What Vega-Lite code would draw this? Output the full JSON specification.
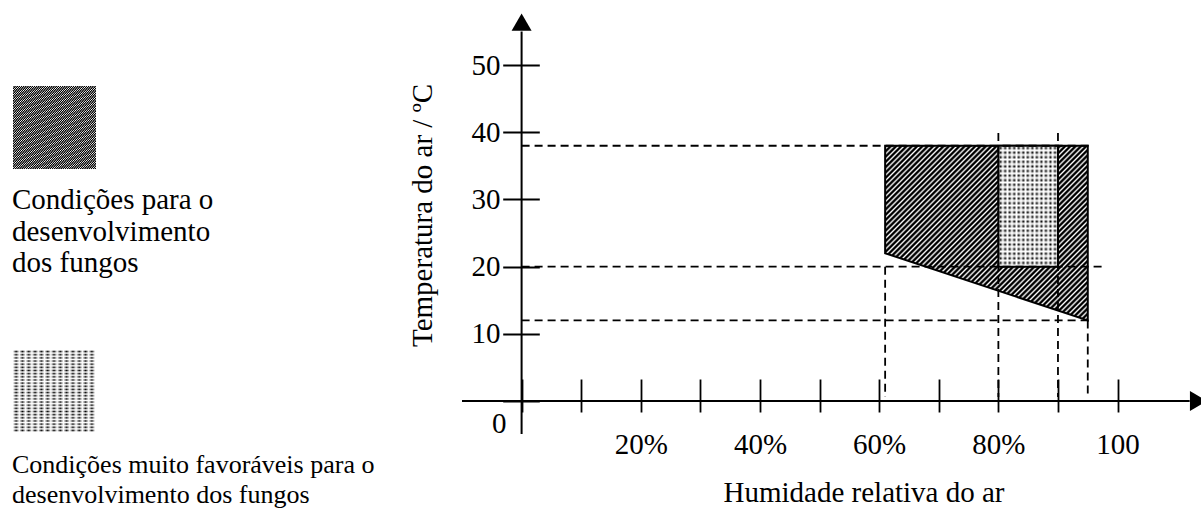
{
  "$schema": "https://vega.github.io/schema/vega-lite/v6.json",
  "width": 739,
  "height": 401,
  "autosize": {"type": "none"},
  "padding": {"left": 462, "top": 0, "right": 0, "bottom": 109},
  "background": "white",
  "config": {"font": "Liberation Serif", "view": {"stroke": null}},
  "datasets": {
    "hatch": [
      {"h": 61, "tmax": 38, "tmin": 22, "zona": "Condições para o desenvolvimento dos fungos"},
      {"h": 95, "tmax": 38, "tmin": 12, "zona": "Condições para o desenvolvimento dos fungos"}
    ],
    "fav": [
      {"h1": 80, "h2": 90, "t1": 20, "t2": 38, "zona": "Condições muito favoráveis para o desenvolvimento dos fungos"}
    ],
    "hdash": [
      {"t": 38, "h1": 0, "h2": 95.2},
      {"t": 20, "h1": 0, "h2": 97.9},
      {"t": 12, "h1": 0, "h2": 95.6}
    ],
    "vdash": [
      {"h": 61, "t1": 20, "t2": 0.6},
      {"h": 80, "t1": 39.9, "t2": 0.6},
      {"h": 90, "t1": 39.9, "t2": 0.6},
      {"h": 95, "t1": 12, "t2": 0.6}
    ]
  },
  "layer": [
    {
      "data": {"name": "hatch"},
      "mark": {"type": "area", "stroke": "black", "strokeWidth": 2,
        "fill": {"gradient": "linear", "x1": 0, "y1": 0, "x2": 1.068, "y2": 0.921, "stops": [
{"offset":0,"color":"#000"},{"offset":0.004,"color":"#000"},{"offset":0.009,"color":"#fff"},
{"offset":0.014,"color":"#000"},{"offset":0.018,"color":"#000"},{"offset":0.023,"color":"#fff"},
{"offset":0.028,"color":"#000"},{"offset":0.032,"color":"#000"},{"offset":0.037,"color":"#fff"},
{"offset":0.042,"color":"#000"},{"offset":0.046,"color":"#000"},{"offset":0.051,"color":"#fff"},
{"offset":0.056,"color":"#000"},{"offset":0.06,"color":"#000"},{"offset":0.065,"color":"#fff"},
{"offset":0.07,"color":"#000"},{"offset":0.074,"color":"#000"},{"offset":0.079,"color":"#fff"},
{"offset":0.084,"color":"#000"},{"offset":0.088,"color":"#000"},{"offset":0.093,"color":"#fff"},
{"offset":0.098,"color":"#000"},{"offset":0.102,"color":"#000"},{"offset":0.107,"color":"#fff"},
{"offset":0.112,"color":"#000"},{"offset":0.116,"color":"#000"},{"offset":0.121,"color":"#fff"},
{"offset":0.126,"color":"#000"},{"offset":0.13,"color":"#000"},{"offset":0.135,"color":"#fff"},
{"offset":0.14,"color":"#000"},{"offset":0.144,"color":"#000"},{"offset":0.149,"color":"#fff"},
{"offset":0.154,"color":"#000"},{"offset":0.158,"color":"#000"},{"offset":0.163,"color":"#fff"},
{"offset":0.168,"color":"#000"},{"offset":0.172,"color":"#000"},{"offset":0.177,"color":"#fff"},
{"offset":0.182,"color":"#000"},{"offset":0.186,"color":"#000"},{"offset":0.191,"color":"#fff"},
{"offset":0.196,"color":"#000"},{"offset":0.2,"color":"#000"},{"offset":0.205,"color":"#fff"},
{"offset":0.21,"color":"#000"},{"offset":0.214,"color":"#000"},{"offset":0.219,"color":"#fff"},
{"offset":0.224,"color":"#000"},{"offset":0.228,"color":"#000"},{"offset":0.233,"color":"#fff"},
{"offset":0.238,"color":"#000"},{"offset":0.242,"color":"#000"},{"offset":0.247,"color":"#fff"},
{"offset":0.252,"color":"#000"},{"offset":0.256,"color":"#000"},{"offset":0.261,"color":"#fff"},
{"offset":0.266,"color":"#000"},{"offset":0.27,"color":"#000"},{"offset":0.275,"color":"#fff"},
{"offset":0.28,"color":"#000"},{"offset":0.284,"color":"#000"},{"offset":0.289,"color":"#fff"},
{"offset":0.294,"color":"#000"},{"offset":0.298,"color":"#000"},{"offset":0.303,"color":"#fff"},
{"offset":0.308,"color":"#000"},{"offset":0.312,"color":"#000"},{"offset":0.317,"color":"#fff"},
{"offset":0.322,"color":"#000"},{"offset":0.326,"color":"#000"},{"offset":0.331,"color":"#fff"},
{"offset":0.336,"color":"#000"},{"offset":0.34,"color":"#000"},{"offset":0.345,"color":"#fff"},
{"offset":0.35,"color":"#000"},{"offset":0.354,"color":"#000"},{"offset":0.359,"color":"#fff"},
{"offset":0.364,"color":"#000"},{"offset":0.368,"color":"#000"},{"offset":0.373,"color":"#fff"},
{"offset":0.378,"color":"#000"},{"offset":0.382,"color":"#000"},{"offset":0.387,"color":"#fff"},
{"offset":0.392,"color":"#000"},{"offset":0.396,"color":"#000"},{"offset":0.401,"color":"#fff"},
{"offset":0.406,"color":"#000"},{"offset":0.41,"color":"#000"},{"offset":0.415,"color":"#fff"},
{"offset":0.42,"color":"#000"},{"offset":0.424,"color":"#000"},{"offset":0.429,"color":"#fff"},
{"offset":0.434,"color":"#000"},{"offset":0.438,"color":"#000"},{"offset":0.443,"color":"#fff"},
{"offset":0.448,"color":"#000"},{"offset":0.452,"color":"#000"},{"offset":0.457,"color":"#fff"},
{"offset":0.462,"color":"#000"},{"offset":0.466,"color":"#000"},{"offset":0.471,"color":"#fff"},
{"offset":0.476,"color":"#000"},{"offset":0.48,"color":"#000"},{"offset":0.485,"color":"#fff"},
{"offset":0.49,"color":"#000"},{"offset":0.494,"color":"#000"},{"offset":0.499,"color":"#fff"},
{"offset":0.504,"color":"#000"},{"offset":0.508,"color":"#000"},{"offset":0.513,"color":"#fff"},
{"offset":0.518,"color":"#000"},{"offset":0.522,"color":"#000"},{"offset":0.527,"color":"#fff"},
{"offset":0.532,"color":"#000"},{"offset":0.536,"color":"#000"},{"offset":0.541,"color":"#fff"},
{"offset":0.546,"color":"#000"},{"offset":0.55,"color":"#000"},{"offset":0.555,"color":"#fff"},
{"offset":0.56,"color":"#000"},{"offset":0.564,"color":"#000"},{"offset":0.569,"color":"#fff"},
{"offset":0.574,"color":"#000"},{"offset":0.578,"color":"#000"},{"offset":0.583,"color":"#fff"},
{"offset":0.588,"color":"#000"},{"offset":0.592,"color":"#000"},{"offset":0.597,"color":"#fff"},
{"offset":0.602,"color":"#000"},{"offset":0.606,"color":"#000"},{"offset":0.611,"color":"#fff"},
{"offset":0.616,"color":"#000"},{"offset":0.62,"color":"#000"},{"offset":0.625,"color":"#fff"},
{"offset":0.63,"color":"#000"},{"offset":0.634,"color":"#000"},{"offset":0.639,"color":"#fff"},
{"offset":0.644,"color":"#000"},{"offset":0.648,"color":"#000"},{"offset":0.653,"color":"#fff"},
{"offset":0.658,"color":"#000"},{"offset":0.662,"color":"#000"},{"offset":0.667,"color":"#fff"},
{"offset":0.672,"color":"#000"},{"offset":0.676,"color":"#000"},{"offset":0.681,"color":"#fff"},
{"offset":0.686,"color":"#000"},{"offset":0.69,"color":"#000"},{"offset":0.695,"color":"#fff"},
{"offset":0.7,"color":"#000"},{"offset":0.704,"color":"#000"},{"offset":0.709,"color":"#fff"},
{"offset":0.714,"color":"#000"},{"offset":0.718,"color":"#000"},{"offset":0.723,"color":"#fff"},
{"offset":0.728,"color":"#000"},{"offset":0.732,"color":"#000"},{"offset":0.737,"color":"#fff"},
{"offset":0.742,"color":"#000"},{"offset":0.746,"color":"#000"},{"offset":0.751,"color":"#fff"},
{"offset":0.756,"color":"#000"},{"offset":0.76,"color":"#000"},{"offset":0.765,"color":"#fff"},
{"offset":0.77,"color":"#000"},{"offset":0.774,"color":"#000"},{"offset":0.779,"color":"#fff"},
{"offset":0.784,"color":"#000"},{"offset":0.788,"color":"#000"},{"offset":0.793,"color":"#fff"},
{"offset":0.798,"color":"#000"},{"offset":0.802,"color":"#000"},{"offset":0.807,"color":"#fff"},
{"offset":0.812,"color":"#000"},{"offset":0.816,"color":"#000"},{"offset":0.821,"color":"#fff"},
{"offset":0.826,"color":"#000"},{"offset":0.83,"color":"#000"},{"offset":0.835,"color":"#fff"},
{"offset":0.84,"color":"#000"},{"offset":0.844,"color":"#000"},{"offset":0.849,"color":"#fff"},
{"offset":0.854,"color":"#000"},{"offset":0.858,"color":"#000"},{"offset":0.863,"color":"#fff"},
{"offset":0.868,"color":"#000"},{"offset":0.872,"color":"#000"},{"offset":0.877,"color":"#fff"},
{"offset":0.882,"color":"#000"},{"offset":0.886,"color":"#000"},{"offset":0.891,"color":"#fff"},
{"offset":0.896,"color":"#000"},{"offset":0.9,"color":"#000"},{"offset":0.905,"color":"#fff"},
{"offset":0.91,"color":"#000"},{"offset":0.914,"color":"#000"},{"offset":0.919,"color":"#fff"},
{"offset":0.924,"color":"#000"},{"offset":0.928,"color":"#000"},{"offset":0.933,"color":"#fff"},
{"offset":0.938,"color":"#000"},{"offset":0.942,"color":"#000"},{"offset":0.947,"color":"#fff"},
{"offset":0.952,"color":"#000"},{"offset":0.956,"color":"#000"},{"offset":0.961,"color":"#fff"},
{"offset":0.966,"color":"#000"},{"offset":0.97,"color":"#000"},{"offset":0.975,"color":"#fff"},
{"offset":0.98,"color":"#000"},{"offset":0.984,"color":"#000"},{"offset":0.989,"color":"#fff"},
{"offset":0.994,"color":"#000"},{"offset":0.998,"color":"#000"}]}
      },
      "encoding": {
        "x": {
          "field": "h", "type": "quantitative",
          "scale": {"domain": [-10, 114], "nice": false, "zero": false},
          "axis": {
            "values": [0, 10, 20, 30, 40, 50, 60, 70, 80, 90, 100],
            "domain": false, "grid": false, "offset": -22,
            "tickSize": 33, "tickWidth": 1.8, "tickColor": "black",
            "labelExpr": "datum.value == 100 ? '100' : (datum.value > 0 && datum.value % 20 == 0 ? datum.value + '%' : '')",
            "labelFontSize": 29, "labelColor": "black", "labelPadding": 18,
            "labelOverlap": false, "labelFlush": false, "labelBound": false,
            "title": "Humidade relativa do ar", "titleFontSize": 29, "titleFontWeight": "normal", "titleColor": "black",
            "titleX": 261, "titleY": 122, "titleAlign": "left", "titleBaseline": "alphabetic", "titleAnchor": "start"
          }
        },
        "y": {
          "field": "tmax", "type": "quantitative",
          "scale": {"domain": [0, 59.7], "nice": false, "zero": false},
          "axis": {
            "values": [0, 10, 20, 30, 40, 50],
            "domain": false, "grid": false, "offset": -77.3,
            "tickSize": 36.6, "tickWidth": 1.8, "tickColor": "black",
            "labelFontSize": 29, "labelColor": "black", "labelBaseline": "middle",
            "labelPadding": {"condition": {"test": "datum.value == 0", "value": -3.3}, "value": 2.7},
            "labelOffset": {"condition": {"test": "datum.value == 0", "value": 22}, "value": 0},
            "labelOverlap": false, "labelFlush": false, "labelBound": false,
            "title": "Temperatura do ar / ºC", "titleFontSize": 29, "titleFontWeight": "normal", "titleColor": "black",
            "titleX": -108, "titleY": 215, "titleAngle": -90, "titleAlign": "center", "titleBaseline": "alphabetic"
          }
        },
        "y2": {"field": "tmin"},
        "opacity": {
          "field": "zona", "type": "nominal",
          "scale": {"range": [1]},
          "legend": {
            "orient": "none", "legendX": -450, "legendY": 85, "padding": 0,
            "title": ["Condições para o", "desenvolvimento", "dos fungos"],
            "titleOrient": "bottom", "titleAnchor": "start", "titleAlign": "left", "titleBaseline": "alphabetic",
            "titleFontSize": 29, "titleFontWeight": "normal", "titleColor": "black", "titleLimit": 1000,
            "titleLineHeight": 31.5, "titlePadding": 37,
            "symbolType": "square", "symbolSize": 6889, "symbolStrokeColor": "black", "symbolStrokeWidth": 1.5, "symbolOpacity": 1,
            "labelExpr": "''", "labelFontSize": 1, "labelOffset": 0,
            "encode": {"symbols": {"update": {"stroke": {"value": "black"}, "strokeWidth": {"value": 1.5}, "fill": {"value": {"gradient": "linear", "x1": 0, "y1": 0, "x2": 1, "y2": 1, "stops": [
{"offset":0,"color":"#000"},{"offset":0.011,"color":"#000"},{"offset":0.024,"color":"#fff"},
{"offset":0.036,"color":"#000"},{"offset":0.047,"color":"#000"},{"offset":0.06,"color":"#fff"},
{"offset":0.072,"color":"#000"},{"offset":0.083,"color":"#000"},{"offset":0.096,"color":"#fff"},
{"offset":0.108,"color":"#000"},{"offset":0.119,"color":"#000"},{"offset":0.132,"color":"#fff"},
{"offset":0.144,"color":"#000"},{"offset":0.155,"color":"#000"},{"offset":0.168,"color":"#fff"},
{"offset":0.18,"color":"#000"},{"offset":0.191,"color":"#000"},{"offset":0.204,"color":"#fff"},
{"offset":0.216,"color":"#000"},{"offset":0.227,"color":"#000"},{"offset":0.24,"color":"#fff"},
{"offset":0.252,"color":"#000"},{"offset":0.263,"color":"#000"},{"offset":0.276,"color":"#fff"},
{"offset":0.288,"color":"#000"},{"offset":0.299,"color":"#000"},{"offset":0.312,"color":"#fff"},
{"offset":0.324,"color":"#000"},{"offset":0.335,"color":"#000"},{"offset":0.348,"color":"#fff"},
{"offset":0.36,"color":"#000"},{"offset":0.371,"color":"#000"},{"offset":0.384,"color":"#fff"},
{"offset":0.396,"color":"#000"},{"offset":0.407,"color":"#000"},{"offset":0.42,"color":"#fff"},
{"offset":0.432,"color":"#000"},{"offset":0.443,"color":"#000"},{"offset":0.456,"color":"#fff"},
{"offset":0.468,"color":"#000"},{"offset":0.479,"color":"#000"},{"offset":0.492,"color":"#fff"},
{"offset":0.504,"color":"#000"},{"offset":0.515,"color":"#000"},{"offset":0.528,"color":"#fff"},
{"offset":0.54,"color":"#000"},{"offset":0.551,"color":"#000"},{"offset":0.564,"color":"#fff"},
{"offset":0.576,"color":"#000"},{"offset":0.587,"color":"#000"},{"offset":0.6,"color":"#fff"},
{"offset":0.612,"color":"#000"},{"offset":0.623,"color":"#000"},{"offset":0.636,"color":"#fff"},
{"offset":0.648,"color":"#000"},{"offset":0.659,"color":"#000"},{"offset":0.672,"color":"#fff"},
{"offset":0.684,"color":"#000"},{"offset":0.695,"color":"#000"},{"offset":0.708,"color":"#fff"},
{"offset":0.72,"color":"#000"},{"offset":0.731,"color":"#000"},{"offset":0.744,"color":"#fff"},
{"offset":0.756,"color":"#000"},{"offset":0.767,"color":"#000"},{"offset":0.78,"color":"#fff"},
{"offset":0.792,"color":"#000"},{"offset":0.803,"color":"#000"},{"offset":0.816,"color":"#fff"},
{"offset":0.828,"color":"#000"},{"offset":0.839,"color":"#000"},{"offset":0.852,"color":"#fff"},
{"offset":0.864,"color":"#000"},{"offset":0.875,"color":"#000"},{"offset":0.888,"color":"#fff"},
{"offset":0.9,"color":"#000"},{"offset":0.911,"color":"#000"},{"offset":0.924,"color":"#fff"},
{"offset":0.936,"color":"#000"},{"offset":0.947,"color":"#000"},{"offset":0.96,"color":"#fff"},
{"offset":0.972,"color":"#000"},{"offset":0.983,"color":"#000"},{"offset":0.996,"color":"#fff"}]}}}}}
          }
        }
      }
    },
    {
      "data": {"name": "fav"},
      "mark": {"type": "rect",
        "fill": {"gradient": "linear", "x1": 0, "y1": 0, "x2": 1, "y2": 0, "stops": [{"offset":0,"color":"#fff"},{"offset":0.038,"color":"#000"},{"offset":0.076,"color":"#fff"},{"offset":0.114,"color":"#000"},{"offset":0.152,"color":"#fff"},{"offset":0.19,"color":"#000"},{"offset":0.228,"color":"#fff"},{"offset":0.266,"color":"#000"},{"offset":0.304,"color":"#fff"},{"offset":0.342,"color":"#000"},{"offset":0.38,"color":"#fff"},{"offset":0.418,"color":"#000"},{"offset":0.456,"color":"#fff"},{"offset":0.494,"color":"#000"},{"offset":0.532,"color":"#fff"},{"offset":0.57,"color":"#000"},{"offset":0.608,"color":"#fff"},{"offset":0.646,"color":"#000"},{"offset":0.684,"color":"#fff"},{"offset":0.722,"color":"#000"},{"offset":0.76,"color":"#fff"},{"offset":0.798,"color":"#000"},{"offset":0.836,"color":"#fff"},{"offset":0.874,"color":"#000"},{"offset":0.912,"color":"#fff"},{"offset":0.95,"color":"#000"},{"offset":0.988,"color":"#fff"}]}
      },
      "encoding": {
        "x": {"field": "h1", "type": "quantitative"},
        "x2": {"field": "h2"},
        "y": {"field": "t2", "type": "quantitative"},
        "y2": {"field": "t1"},
        "opacity": {
          "field": "zona", "type": "nominal",
          "scale": {"range": [1]},
          "legend": {
            "orient": "none", "legendX": -450, "legendY": 349, "padding": 0,
            "title": ["Condições muito favoráveis para o", "desenvolvimento dos fungos"],
            "titleOrient": "bottom", "titleAnchor": "start", "titleAlign": "left", "titleBaseline": "alphabetic",
            "titleFontSize": 26, "titleFontWeight": "normal", "titleColor": "black", "titleLimit": 1000,
            "titleLineHeight": 30, "titlePadding": 37,
            "symbolType": "square", "symbolSize": 6889, "symbolStrokeColor": "black", "symbolStrokeWidth": 1.5, "symbolOpacity": 1,
            "labelExpr": "''", "labelFontSize": 1, "labelOffset": 0,
            "encode": {"symbols": {"update": {"stroke": {"value": "black"}, "strokeWidth": {"value": 1.5}, "fill": {"value": {"gradient": "linear", "x1": 0, "y1": 0, "x2": 1, "y2": 0, "stops": [{"offset":0,"color":"#fff"},{"offset":0.028,"color":"#000"},{"offset":0.056,"color":"#fff"},{"offset":0.084,"color":"#000"},{"offset":0.112,"color":"#fff"},{"offset":0.14,"color":"#000"},{"offset":0.168,"color":"#fff"},{"offset":0.196,"color":"#000"},{"offset":0.224,"color":"#fff"},{"offset":0.252,"color":"#000"},{"offset":0.28,"color":"#fff"},{"offset":0.308,"color":"#000"},{"offset":0.336,"color":"#fff"},{"offset":0.364,"color":"#000"},{"offset":0.392,"color":"#fff"},{"offset":0.42,"color":"#000"},{"offset":0.448,"color":"#fff"},{"offset":0.476,"color":"#000"},{"offset":0.504,"color":"#fff"},{"offset":0.532,"color":"#000"},{"offset":0.56,"color":"#fff"},{"offset":0.588,"color":"#000"},{"offset":0.616,"color":"#fff"},{"offset":0.644,"color":"#000"},{"offset":0.672,"color":"#fff"},{"offset":0.7,"color":"#000"},{"offset":0.728,"color":"#fff"},{"offset":0.756,"color":"#000"},{"offset":0.784,"color":"#fff"},{"offset":0.812,"color":"#000"},{"offset":0.84,"color":"#fff"},{"offset":0.868,"color":"#000"},{"offset":0.896,"color":"#fff"},{"offset":0.924,"color":"#000"},{"offset":0.952,"color":"#fff"},{"offset":0.98,"color":"#000"}]}}}}}
          }
        }
      }
    },
    {
      "data": {"name": "fav"},
      "mark": {"type": "rect", "stroke": "black", "strokeWidth": 2,
        "fill": {"gradient": "linear", "x1": 0, "y1": 0, "x2": 0, "y2": 1, "stops": [{"offset":0,"color":"#fff"},{"offset":0.019,"color":"rgba(255,255,255,0)"},{"offset":0.038,"color":"#fff"},{"offset":0.057,"color":"rgba(255,255,255,0)"},{"offset":0.076,"color":"#fff"},{"offset":0.095,"color":"rgba(255,255,255,0)"},{"offset":0.114,"color":"#fff"},{"offset":0.133,"color":"rgba(255,255,255,0)"},{"offset":0.152,"color":"#fff"},{"offset":0.171,"color":"rgba(255,255,255,0)"},{"offset":0.19,"color":"#fff"},{"offset":0.209,"color":"rgba(255,255,255,0)"},{"offset":0.228,"color":"#fff"},{"offset":0.247,"color":"rgba(255,255,255,0)"},{"offset":0.266,"color":"#fff"},{"offset":0.285,"color":"rgba(255,255,255,0)"},{"offset":0.304,"color":"#fff"},{"offset":0.323,"color":"rgba(255,255,255,0)"},{"offset":0.342,"color":"#fff"},{"offset":0.361,"color":"rgba(255,255,255,0)"},{"offset":0.38,"color":"#fff"},{"offset":0.399,"color":"rgba(255,255,255,0)"},{"offset":0.418,"color":"#fff"},{"offset":0.437,"color":"rgba(255,255,255,0)"},{"offset":0.456,"color":"#fff"},{"offset":0.475,"color":"rgba(255,255,255,0)"},{"offset":0.494,"color":"#fff"},{"offset":0.513,"color":"rgba(255,255,255,0)"},{"offset":0.532,"color":"#fff"},{"offset":0.551,"color":"rgba(255,255,255,0)"},{"offset":0.57,"color":"#fff"},{"offset":0.589,"color":"rgba(255,255,255,0)"},{"offset":0.608,"color":"#fff"},{"offset":0.627,"color":"rgba(255,255,255,0)"},{"offset":0.646,"color":"#fff"},{"offset":0.665,"color":"rgba(255,255,255,0)"},{"offset":0.684,"color":"#fff"},{"offset":0.703,"color":"rgba(255,255,255,0)"},{"offset":0.722,"color":"#fff"},{"offset":0.741,"color":"rgba(255,255,255,0)"},{"offset":0.76,"color":"#fff"},{"offset":0.779,"color":"rgba(255,255,255,0)"},{"offset":0.798,"color":"#fff"},{"offset":0.817,"color":"rgba(255,255,255,0)"},{"offset":0.836,"color":"#fff"},{"offset":0.855,"color":"rgba(255,255,255,0)"},{"offset":0.874,"color":"#fff"},{"offset":0.893,"color":"rgba(255,255,255,0)"},{"offset":0.912,"color":"#fff"},{"offset":0.931,"color":"rgba(255,255,255,0)"},{"offset":0.95,"color":"#fff"},{"offset":0.969,"color":"rgba(255,255,255,0)"},{"offset":0.988,"color":"#fff"}]}
      },
      "encoding": {
        "x": {"field": "h1", "type": "quantitative"},
        "x2": {"field": "h2"},
        "y": {"field": "t2", "type": "quantitative"},
        "y2": {"field": "t1"},
        "opacity": {
          "field": "zona", "type": "nominal",
          "scale": {"range": [1]},
          "legend": {
            "orient": "none", "legendX": -450, "legendY": 349, "padding": 0,
            "title": null,
            "symbolType": "square", "symbolSize": 6889, "symbolStrokeColor": "black", "symbolStrokeWidth": 1.5, "symbolOpacity": 1,
            "labelExpr": "''", "labelFontSize": 1, "labelOffset": 0,
            "encode": {"symbols": {"update": {"stroke": {"value": "black"}, "strokeWidth": {"value": 1.5}, "fill": {"value": {"gradient": "linear", "x1": 0, "y1": 0, "x2": 0, "y2": 1, "stops": [{"offset":0,"color":"#fff"},{"offset":0.028,"color":"rgba(255,255,255,0)"},{"offset":0.056,"color":"#fff"},{"offset":0.084,"color":"rgba(255,255,255,0)"},{"offset":0.112,"color":"#fff"},{"offset":0.14,"color":"rgba(255,255,255,0)"},{"offset":0.168,"color":"#fff"},{"offset":0.196,"color":"rgba(255,255,255,0)"},{"offset":0.224,"color":"#fff"},{"offset":0.252,"color":"rgba(255,255,255,0)"},{"offset":0.28,"color":"#fff"},{"offset":0.308,"color":"rgba(255,255,255,0)"},{"offset":0.336,"color":"#fff"},{"offset":0.364,"color":"rgba(255,255,255,0)"},{"offset":0.392,"color":"#fff"},{"offset":0.42,"color":"rgba(255,255,255,0)"},{"offset":0.448,"color":"#fff"},{"offset":0.476,"color":"rgba(255,255,255,0)"},{"offset":0.504,"color":"#fff"},{"offset":0.532,"color":"rgba(255,255,255,0)"},{"offset":0.56,"color":"#fff"},{"offset":0.588,"color":"rgba(255,255,255,0)"},{"offset":0.616,"color":"#fff"},{"offset":0.644,"color":"rgba(255,255,255,0)"},{"offset":0.672,"color":"#fff"},{"offset":0.7,"color":"rgba(255,255,255,0)"},{"offset":0.728,"color":"#fff"},{"offset":0.756,"color":"rgba(255,255,255,0)"},{"offset":0.784,"color":"#fff"},{"offset":0.812,"color":"rgba(255,255,255,0)"},{"offset":0.84,"color":"#fff"},{"offset":0.868,"color":"rgba(255,255,255,0)"},{"offset":0.896,"color":"#fff"},{"offset":0.924,"color":"rgba(255,255,255,0)"},{"offset":0.952,"color":"#fff"},{"offset":0.98,"color":"rgba(255,255,255,0)"}]}}}}}
          }
        }
      }
    },
    {
      "data": {"name": "hdash"},
      "mark": {"type": "rule", "color": "black", "strokeWidth": 1.8, "strokeDash": [8, 5]},
      "encoding": {
        "x": {"field": "h1", "type": "quantitative"},
        "x2": {"field": "h2"},
        "y": {"field": "t", "type": "quantitative"}
      }
    },
    {
      "data": {"name": "vdash"},
      "mark": {"type": "rule", "color": "black", "strokeWidth": 1.8, "strokeDash": [8, 5]},
      "encoding": {
        "x": {"field": "h", "type": "quantitative"},
        "y": {"field": "t1", "type": "quantitative"},
        "y2": {"field": "t2"}
      }
    },
    {
      "data": {"values": [{}]},
      "mark": {"type": "rule", "color": "black", "strokeWidth": 2},
      "encoding": {
        "x": {"datum": -10, "type": "quantitative"},
        "x2": {"datum": 112.1},
        "y": {"datum": 0, "type": "quantitative"}
      }
    },
    {
      "data": {"values": [{}]},
      "mark": {"type": "rule", "color": "black", "strokeWidth": 2},
      "encoding": {
        "x": {"datum": 0, "type": "quantitative"},
        "y": {"datum": -4.9, "type": "quantitative"},
        "y2": {"datum": 55}
      }
    },
    {
      "data": {"values": [{}]},
      "mark": {"type": "point", "shape": "triangle-up", "filled": true, "color": "black", "opacity": 1, "size": 400},
      "encoding": {
        "x": {"datum": 0, "type": "quantitative"},
        "y": {"datum": 56.4, "type": "quantitative"}
      }
    },
    {
      "data": {"values": [{}]},
      "mark": {"type": "point", "shape": "triangle-right", "filled": true, "color": "black", "opacity": 1, "size": 400},
      "encoding": {
        "x": {"datum": 113.6, "type": "quantitative"},
        "y": {"datum": 0, "type": "quantitative"}
      }
    }
  ],
  "resolve": {"scale": {"opacity": "independent"}, "legend": {"opacity": "independent"}}
}
